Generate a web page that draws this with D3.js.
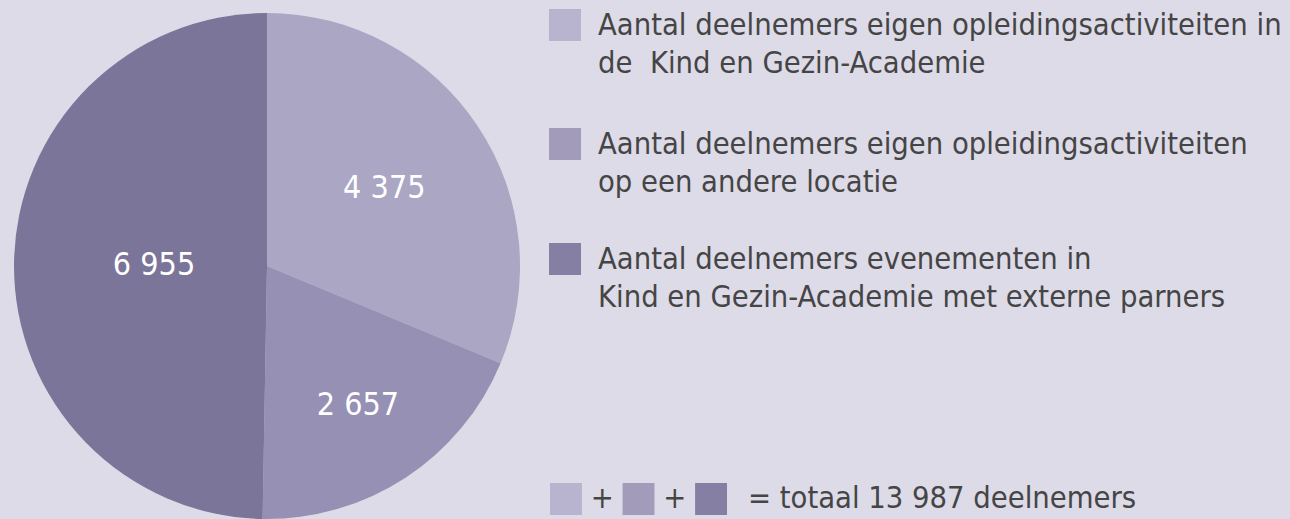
<!DOCTYPE html>
<html>
<head>
<meta charset="utf-8">
<script src="https://cdn.jsdelivr.net/npm/d3@7"></script>
<style>
    html, body { margin: 0; padding: 0; background: #dddbe8; }
    svg { display: block; }
    text { font-family: "DejaVu Sans Condensed", "DejaVu Sans", sans-serif; }
</style>
</head>
<body>
<div id="pie_chart"></div>
<script>
    const categories = [
        ["Aantal deelnemers eigen opleidingsactiviteiten in", "de  Kind en Gezin-Academie"],
        ["Aantal deelnemers eigen opleidingsactiviteiten", "op een andere locatie"],
        ["Aantal deelnemers evenementen in", "Kind en Gezin-Academie met externe parners"]
    ];
    const values = [4375, 2657, 6955];
    const valueLabels = ["4 375", "2 657", "6 955"];
    const totalLabel = "= totaal 13 987 deelnemers";

    const sliceColor = ['#aaa6c4', '#9590b4', '#7a7599'];
    const legendColor = ['#b8b4cf', '#a29cba', '#857fa3'];
    const labelRadius = [141, 166, 113];

    const width = 1290, height = 519;
    const cx = 267, cy = 266, radius = 253;

    const svg = d3.select("#pie_chart").append("svg")
                  .attr("width", width)
                  .attr("height", height);

    const pie = d3.pie().sort(null).value(d => d);
    const arcs = pie(values);
    const arc = d3.arc().innerRadius(0).outerRadius(radius);

    const g = svg.append("g")
        .attr("transform", "translate(" + cx + "," + cy + ")");

    g.selectAll("path")
        .data(arcs)
        .enter().append("path")
        .attr("d", arc)
        .style("fill", (d, i) => sliceColor[i]);

    // value labels inside the slices
    g.selectAll(".val")
        .data(arcs)
        .enter().append("text")
        .attr("class", "val")
        .attr("transform", function(d, i) {
            const c = d3.arc().innerRadius(labelRadius[i]).outerRadius(labelRadius[i]).centroid(d);
            return "translate(" + c[0] + "," + (c[1] + 10) + ")";
        })
        .style("text-anchor", "middle")
        .style("font-size", "32px")
        .style("fill", "#ffffff")
        .text((d, i) => valueLabels[i]);

    // legend
    const legendY = [9, 128, 243];
    const legend = svg.append("g")
        .attr("transform", "translate(549,0)");

    const item = legend.selectAll(".item")
        .data(categories)
        .enter().append("g")
        .attr("class", "item")
        .attr("transform", (d, i) => "translate(0," + legendY[i] + ")");

    item.append("rect")
        .attr("width", 32)
        .attr("height", 32)
        .style("fill", (d, i) => legendColor[i]);

    item.append("text")
        .attr("x", 49)
        .attr("y", 26)
        .style("font-size", "30.6px")
        .style("fill", "#454545")
        .selectAll("tspan")
        .data(d => d)
        .enter().append("tspan")
        .attr("x", 49)
        .attr("dy", (d, i) => i === 0 ? 0 : 38)
        .style("white-space", "pre")
        .text(d => d);

    // sum row
    const sum = svg.append("g")
        .attr("transform", "translate(550,483)");

    const sumX = d3.scaleBand()
        .domain(values.map((d, i) => i))
        .range([0, 177])
        .paddingInner(0.56);

    sum.selectAll("rect")
        .data(values)
        .enter().append("rect")
        .attr("x", (d, i) => sumX(i))
        .attr("width", sumX.bandwidth())
        .attr("height", 32)
        .style("fill", (d, i) => legendColor[i]);

    sum.selectAll(".plus")
        .data(values.slice(1))
        .enter().append("text")
        .attr("class", "plus")
        .attr("x", (d, i) => sumX(i + 1) - (sumX.step() - sumX.bandwidth()) / 2)
        .attr("y", 25)
        .style("text-anchor", "middle")
        .style("font-size", "30.6px")
        .style("fill", "#454545")
        .text("+");

    sum.append("text")
        .attr("x", 198)
        .attr("y", 25)
        .style("font-size", "30.6px")
        .style("fill", "#454545")
        .text(totalLabel);
</script>
</body>
</html>
